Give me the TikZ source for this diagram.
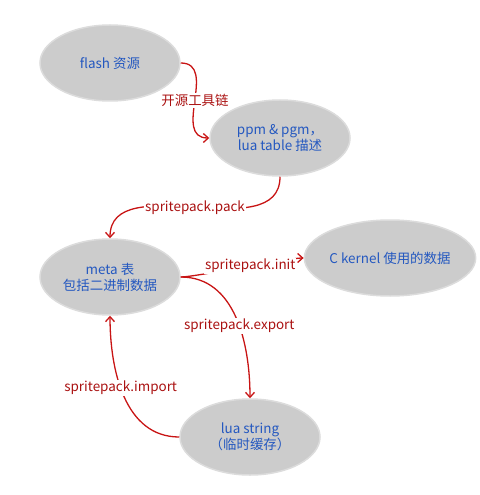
\documentclass[tikz,border=0pt]{standalone}
\usepackage{fontspec}
\setmainfont{Noto Sans CJK SC}
\usetikzlibrary{shapes.geometric,arrows.meta}

\begin{document}
\begin{tikzpicture}[x=1bp, y=-1bp]
    \definecolor{stateFill}{HTML}{CCCCCC}
    \definecolor{stateBorder}{HTML}{DCDCDC}
    \definecolor{stateText}{HTML}{2458C0}
    \definecolor{flowColour}{HTML}{C81414}
    \definecolor{flowText}{HTML}{AA1111}

    \tikzset{
        state/.style={ellipse, fill=stateFill, draw=stateBorder, line width=1.5pt,
            minimum width=140bp, minimum height=76bp, inner sep=0pt, align=center,
            text=stateText, font=\fontsize{13.5}{16}\selectfont},
        flow/.style={draw=flowColour, line width=1.3pt, -{Straight Barb[length=5pt,width=9pt]}},
        flowlabel/.style={fill=white, text=flowText, inner sep=1pt, font=\fontsize{13.5}{16}\selectfont}
    }

    \useasboundingbox (0,0) rectangle (480,495);

    % Draw the states
    \node[state] (flash) at (110,63) {flash 资源};
    \node[state] (ppm) at (280,138) {ppm \& pgm，\\ lua table 描述};
    \node[state] (meta) at (110,277) {meta 表\\包括二进制数据};
    \node[state] (ckernel) at (390,258) {C kernel 使用的数据};
    \node[state] (luastr) at (250,437) {lua string\\（临时缓存）};

    % Draw the flows
    \draw[flow] (flash.east) to[out=0, in=180, looseness=1.2] node[flowlabel] {开源工具链} (ppm.west);
    \draw[flow] (ppm.south) to[out=-90, in=90] node[flowlabel] {spritepack.pack} (meta.north);
    \draw[flow] (meta.east) to[out=0, in=180, looseness=0.3] node[flowlabel, pos=0.55] {spritepack.init} (ckernel.west);
    \draw[flow] (meta.east) to[out=0, in=90] node[flowlabel, pos=0.56] {spritepack.export} (luastr.north);
    \draw[flow] (luastr.west) to[out=180, in=-90] node[flowlabel, pos=0.56] {spritepack.import} (meta.south);

\end{tikzpicture}
\end{document}
